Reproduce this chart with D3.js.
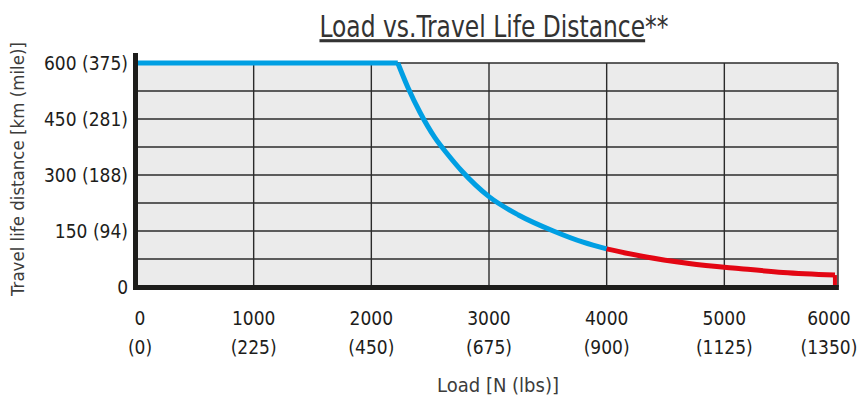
<!DOCTYPE html>
<html>
<head>
<meta charset="utf-8">
<script src="https://cdn.jsdelivr.net/npm/d3@7"></script>
<style>
  body { margin: 0; background: #fff; }
  text { font-family: "Liberation Sans Narrow", "DejaVu Sans Condensed", "Roboto Condensed", sans-serif; font-stretch: condensed; }
</style>
</head>
<body>
<div id="graph"></div>
<script>
// values
var xTicks = [0, 1000, 2000, 3000, 4000, 5000, 6000];
var xTickLbs = ['(0)', '(225)', '(450)', '(675)', '(900)', '(1125)', '(1350)'];
var yGrid = [75, 150, 225, 300, 375, 450, 525, 600];
var yTicks = [0, 150, 300, 450, 600];
var yTickLabels = ['0', '150 (94)', '300 (188)', '450 (281)', '600 (375)'];

var blueLoad = [0, 2225, 2310, 2413, 2540, 2650, 2771, 3000, 3250, 3547, 3800, 4000];
var blueLife = [600, 600, 535, 468, 400, 355, 310, 242, 193, 150, 120, 102];
var redLoad = [4000, 4290, 4700, 5140, 5500, 5940, 5940];
var redLife = [102, 83, 63, 49, 39, 32, 0];
var plotEndLoad = 5965;

var width = 860, height = 403;

var x = d3.scaleLinear().domain([0, 6000]).range([136, 842]);
var y = d3.scaleLinear().domain([0, 600]).range([287, 63]);

var svg = d3.select('#graph')
            .append('svg')
            .attr('width', width)
            .attr('height', height);

// plot background
svg.append('rect')
   .attr('x', x(0))
   .attr('y', y(600))
   .attr('width', x(plotEndLoad) - x(0))
   .attr('height', y(0) - y(600))
   .attr('fill', '#ebebeb');

// grid
svg.selectAll('.hgrid')
   .data(yGrid)
   .enter()
   .append('line')
   .attr('x1', x(0)).attr('x2', x(plotEndLoad))
   .attr('y1', d => y(d)).attr('y2', d => y(d))
   .attr('stroke', '#2b2b2b')
   .attr('stroke-width', 1.4);

svg.selectAll('.vgrid')
   .data(xTicks.slice(1, 6))
   .enter()
   .append('line')
   .attr('x1', d => x(d)).attr('x2', d => x(d))
   .attr('y1', y(600)).attr('y2', y(0))
   .attr('stroke', '#2b2b2b')
   .attr('stroke-width', 1.4);

// right border
svg.append('line')
   .attr('x1', x(plotEndLoad)).attr('x2', x(plotEndLoad))
   .attr('y1', y(600)).attr('y2', y(0))
   .attr('stroke', '#555')
   .attr('stroke-width', 2);

// curves
var line = d3.line()
             .x(d => x(d[0]))
             .y(d => y(d[1]));

var blue = blueLoad.map((v, i) => [v, blueLife[i]]);
var red = redLoad.map((v, i) => [v, redLife[i]]);

svg.append('path')
   .attr('d', line(blue.slice(0, 2)))
   .attr('fill', 'none')
   .attr('stroke', '#009fe3')
   .attr('stroke-width', 5);

svg.append('path')
   .attr('d', line.curve(d3.curveMonotoneX)(blue.slice(1)))
   .attr('fill', 'none')
   .attr('stroke', '#009fe3')
   .attr('stroke-width', 5);

svg.append('path')
   .attr('d', line.curve(d3.curveMonotoneX)(red.slice(0, -1)))
   .attr('fill', 'none')
   .attr('stroke', '#e30613')
   .attr('stroke-width', 5);

svg.append('path')
   .attr('d', d3.line().x(d => x(d[0])).y(d => y(d[1]))(red.slice(-2)))
   .attr('fill', 'none')
   .attr('stroke', '#e30613')
   .attr('stroke-width', 4);

// axes (thick black)
svg.append('line')
   .attr('x1', 135.5).attr('x2', 135.5)
   .attr('y1', 53).attr('y2', 290)
   .attr('stroke', '#1d1d1b')
   .attr('stroke-width', 5);

svg.append('line')
   .attr('x1', 133).attr('x2', x(plotEndLoad) + 1)
   .attr('y1', 287.5).attr('y2', 287.5)
   .attr('stroke', '#1d1d1b')
   .attr('stroke-width', 5);

// y tick labels
svg.selectAll('.ylab')
   .data(yTicks)
   .enter()
   .append('text')
   .attr('x', 128)
   .attr('y', d => y(d))
   .attr('dy', '0.36em')
   .attr('text-anchor', 'end')
   .attr('font-size', 19)
   .attr('fill', '#1d1d1b')
   .text((d, i) => yTickLabels[i]);

// x tick labels
var xLab = d => Math.min(x(d), 829);

svg.selectAll('.xlab')
   .data(xTicks)
   .enter()
   .append('text')
   .attr('x', d => xLab(d) + (d === 0 ? 4 : 0))
   .attr('y', 325)
   .attr('text-anchor', 'middle')
   .attr('font-size', 19)
   .attr('fill', '#1d1d1b')
   .text(d => d);

svg.selectAll('.xlab2')
   .data(xTicks)
   .enter()
   .append('text')
   .attr('x', d => xLab(d) + (d === 0 ? 4 : 0))
   .attr('y', 354)
   .attr('text-anchor', 'middle')
   .attr('font-size', 19)
   .attr('fill', '#1d1d1b')
   .text((d, i) => xTickLbs[i]);

// axis titles
svg.append('text')
   .attr('x', 498)
   .attr('y', 392)
   .attr('text-anchor', 'middle')
   .attr('font-size', 20)
   .attr('fill', '#3c3c3b')
   .text('Load [N (lbs)]');

svg.append('text')
   .attr('transform', 'translate(24,169) rotate(-90)')
   .attr('text-anchor', 'middle')
   .attr('font-size', 18.5)
   .attr('fill', '#3c3c3b')
   .text('Travel life distance [km (mile)]');

// title (tall, narrow face)
var title = svg.append('text')
   .attr('transform', 'translate(494,37) scale(0.84,1)')
   .attr('text-anchor', 'middle')
   .attr('font-size', 31)
   .attr('fill', '#333');
title.append('tspan').attr('text-decoration', 'underline').text('Load vs.Travel Life Distance');
title.append('tspan').text('**');
</script>
</body>
</html>
